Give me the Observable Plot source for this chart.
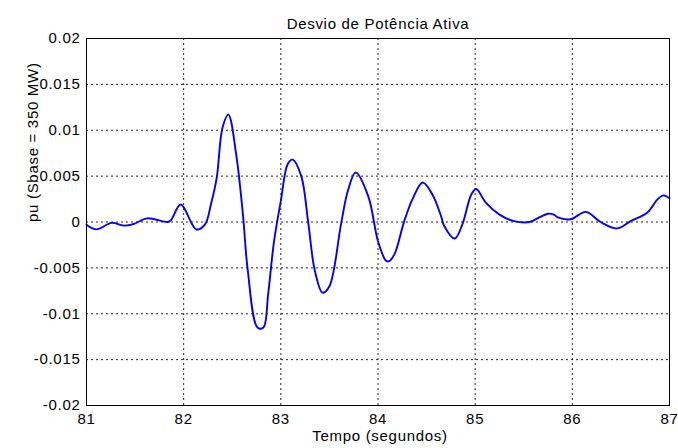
<!DOCTYPE html>
<html>
<head>
<meta charset="utf-8">
<script src="https://cdn.jsdelivr.net/npm/d3@7"></script>
<script src="https://cdn.jsdelivr.net/npm/@observablehq/plot@0.6"></script>
<style>
  html, body { margin: 0; padding: 0; background: #fff; }
  #chart svg { display: block; }
  #chart svg text { letter-spacing: 0.7px; }
</style>
</head>
<body>
<div id="chart"></div>
<script>
const title = "Desvio de Potência Ativa";
const xLabel = "Tempo (segundos)";
const yLabel = "pu (Sbase = 350 MW)";

const xTicks = [81, 82, 83, 84, 85, 86, 87];
const yTicks = [-0.02, -0.015, -0.01, -0.005, 0, 0.005, 0.01, 0.015, 0.02];

const time = [
  81.00, 81.10, 81.26, 81.39, 81.49, 81.62, 81.84, 81.87, 81.97, 82.13,
  82.22, 82.28, 82.34, 82.40, 82.46, 82.54, 82.61, 82.66, 82.76, 82.82,
  82.87, 82.93, 83.00, 83.07, 83.12, 83.21, 83.28, 83.35, 83.43, 83.50,
  83.62, 83.69, 83.77, 83.90, 84.00, 84.08, 84.11, 84.17, 84.27, 84.36,
  84.46, 84.56, 84.65, 84.68, 84.79, 84.87, 84.96, 85.01, 85.11, 85.25,
  85.40, 85.56, 85.66, 85.75, 85.81, 85.85, 85.98, 86.14, 86.29, 86.46,
  86.60, 86.77, 86.88, 86.94, 87.00
];
const power = [
  -0.0003, -0.0008, -0.0001, -0.0004, -0.0002, 0.0004, 0.0000, 0.0002, 0.0019, -0.0008,
  -0.00025, 0.0019, 0.0048, 0.0103, 0.0117, 0.0074, 0.0008, -0.0053, -0.0115, -0.0115,
  -0.0078, -0.0021, 0.0023, 0.0063, 0.0068, 0.0050, 0.0001, -0.0053, -0.0077, -0.0070,
  -0.0002, 0.0034, 0.0054, 0.0028, -0.0021, -0.0042, -0.0043, -0.0035, 0.0001, 0.0026,
  0.0043, 0.0030, 0.0006, -0.0004, -0.0018, -0.0002, 0.0030, 0.0036, 0.0021, 0.0008,
  0.0001, 0.0000, 0.0005, 0.0009, 0.0008, 0.0005, 0.0003, 0.0011, 0.0000, -0.0007,
  0.0001, 0.0010, 0.0025, 0.0029, 0.0026
];

const series = time.map((t, i) => ({t, v: power[i]}));

const font = "'Liberation Sans', Arial, sans-serif";

const chart = Plot.plot({
  width: 678,
  height: 448,
  marginLeft: 86,
  marginRight: 9,
  marginTop: 38,
  marginBottom: 43,
  style: {fontFamily: font, fontSize: "15px", background: "#fff", color: "#000"},
  x: {domain: [81, 87]},
  y: {domain: [-0.02, 0.02]},
  marks: [
    Plot.ruleX(xTicks, {stroke: "#000", strokeDasharray: "2,3", strokeOpacity: 0.85}),
    Plot.ruleY(yTicks, {stroke: "#000", strokeDasharray: "2,3", strokeOpacity: 0.85}),
    Plot.line(series, {x: "t", y: "v", stroke: "#0000ff", strokeWidth: 1.9, curve: "catmull-rom"}),
    Plot.frame({stroke: "#000", strokeWidth: 1}),
    Plot.axisX(xTicks, {tickSize: 0, tickPadding: 8, tickFormat: d => String(d), label: null, fontSize: 15}),
    Plot.axisY(yTicks, {tickSize: 0, tickPadding: 6, tickFormat: d => String(d), label: null, fontSize: 15}),
    Plot.text([title], {frameAnchor: "top", dy: -20, fontSize: 15, fill: "#000"}),
    Plot.text([xLabel], {frameAnchor: "bottom", dy: 35, dx: 2, fontSize: 15, fill: "#000"}),
    Plot.text([yLabel], {frameAnchor: "left", dx: -53, rotate: -90, fontSize: 15, fill: "#000"})
  ]
});

document.getElementById("chart").appendChild(chart);
</script>
</body>
</html>
